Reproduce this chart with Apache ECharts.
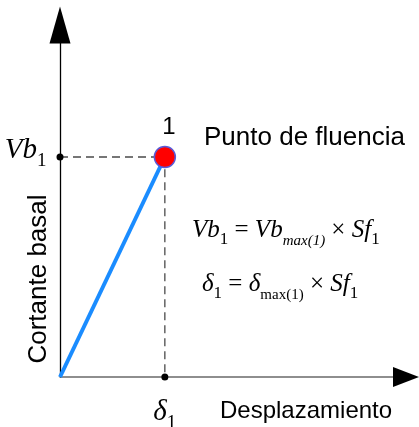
<!DOCTYPE html>
<html><head><meta charset="utf-8">
<script src="https://cdn.jsdelivr.net/npm/echarts/dist/echarts.min.js"></script>
<style>html,body{margin:0;padding:0;background:#fff}#c{width:419px;height:427px}</style>
</head><body><div id="c"></div>
<script>
// ---- data ----
const curveX = [0, 1];            // displacement (normalised to the yield point)
const curveY = [0, 1];            // base shear (normalised to the yield point)
const yieldPoint = [1, 1];        // point "1"
const pointLabel = '1';
const xAxisMax = 3.3;
const yAxisMax = 1.6;
const xTitle = 'Desplazamiento';
const yTitle = 'Cortante basal';
const noteText = 'Punto de fluencia';

const SANS = 'Liberation Sans, Arial, sans-serif';
const SERIF = 'Liberation Serif, Times New Roman, serif';

const chart = echarts.init(document.getElementById('c'), null, {renderer: 'canvas'});

const rich = {
  i:  {fontFamily: SERIF, fontStyle: 'italic', fontSize: 25, lineHeight: 25, verticalAlign: 'top', color: '#000'},
  r:  {fontFamily: SERIF, fontSize: 25, lineHeight: 25, verticalAlign: 'top', color: '#000'},
  s:  {fontFamily: SERIF, fontSize: 17, lineHeight: 17, padding: [13, 0, 0, 0], verticalAlign: 'top', color: '#000'},
  mi: {fontFamily: SERIF, fontStyle: 'italic', fontSize: 15, lineHeight: 15, padding: [16, 0, 0, 0], verticalAlign: 'top', color: '#000'},
  mr: {fontFamily: SERIF, fontSize: 15, lineHeight: 15, padding: [16, 0, 0, 0], verticalAlign: 'top', color: '#000'},
  I:  {fontFamily: SERIF, fontStyle: 'italic', fontSize: 29, lineHeight: 29, verticalAlign: 'top', color: '#000'},
  S:  {fontFamily: SERIF, fontSize: 19, lineHeight: 19, padding: [16, 0, 0, 0], verticalAlign: 'top', color: '#000'}
};

const option = {
  animation: false,
  backgroundColor: '#fff',
  grid: {left: 60, right: 13, top: 25, bottom: 50},
  xAxis: [{
    type: 'value', min: 0, max: xAxisMax,
    axisLine: {show: true, onZero: false, lineStyle: {color: '#6a6a6a', width: 1.5}},
    axisTick: {show: false}, axisLabel: {show: false}, splitLine: {show: false}
  }, {
    type: 'value', min: 0, max: xAxisMax, position: 'bottom',
    axisLine: {show: true, onZero: false, symbol: ['none', 'triangle'], symbolSize: [20, 26],
      lineStyle: {color: '#000', width: 0}},
    axisTick: {show: false}, axisLabel: {show: false}, splitLine: {show: false}
  }],
  yAxis: {
    type: 'value', min: 0, max: yAxisMax,
    axisLine: {show: true, onZero: false, symbol: ['none', 'triangle'], symbolSize: [21, 37],
      lineStyle: {color: '#000', width: 1.3}},
    axisTick: {show: false}, axisLabel: {show: false}, splitLine: {show: false}
  },
  series: [{
    type: 'line',
    data: [[curveX[0], yieldPoint[1]], yieldPoint, [yieldPoint[0], curveY[0]]],
    symbol: 'none', silent: true, z: 1,
    lineStyle: {color: '#4a4a4a', width: 1.3, type: [8, 5]}
  }, {
    type: 'line',
    data: curveX.map((x, i) => [x, curveY[i]]),
    symbol: 'none', z: 2,
    lineStyle: {color: '#1a8cff', width: 4}
  }, {
    type: 'scatter', clip: false, z: 3,
    symbolSize: 7, itemStyle: {color: '#000', opacity: 1},
    data: [{
      value: [curveX[0], yieldPoint[1]],
      label: {show: true, position: 'left', distance: 10, offset: [0, -7],
        formatter: '{I|Vb}{S|1}', rich: rich}
    }, {
      value: [yieldPoint[0], curveY[0]],
      label: {show: true, position: 'bottom', distance: 17,
        formatter: '{I|δ}{S|1}', rich: rich}
    }]
  }, {
    type: 'scatter', clip: false, z: 4,
    symbolSize: 21,
    itemStyle: {color: '#ff0000', borderColor: '#5a5ad6', borderWidth: 1.5, opacity: 1},
    label: {show: true, position: 'top', distance: 6, offset: [4, 0],
      formatter: pointLabel, fontFamily: SANS, fontSize: 24, color: '#000'},
    data: [yieldPoint]
  }],
  graphic: [{
    type: 'text', x: 204, y: 137.5,
    style: {text: noteText, fontFamily: SANS, fontSize: 26, fill: '#000', align: 'left', verticalAlign: 'middle'}
  }, {
    type: 'text', x: 220, y: 411,
    style: {text: xTitle, fontFamily: SANS, fontSize: 24, fill: '#000', align: 'left', verticalAlign: 'middle'}
  }, {
    type: 'text', x: 39, y: 279, rotation: Math.PI / 2,
    style: {text: yTitle, fontFamily: SANS, fontSize: 26, fill: '#000', align: 'center', verticalAlign: 'middle'}
  }, {
    type: 'text', x: 192, y: 218,
    style: {text: '{i|Vb}{s|1}{r| = }{i|Vb}{mi|max(1)}{r| × }{i|Sf}{s|1}', rich: rich, align: 'left', verticalAlign: 'top'}
  }, {
    type: 'text', x: 202, y: 272,
    style: {text: '{i|δ}{s|1}{r| = }{i|δ}{mr|max(1)}{r| × }{i|Sf}{s|1}', rich: rich, align: 'left', verticalAlign: 'top'}
  }]
};
chart.setOption(option);
</script>
</body></html>
